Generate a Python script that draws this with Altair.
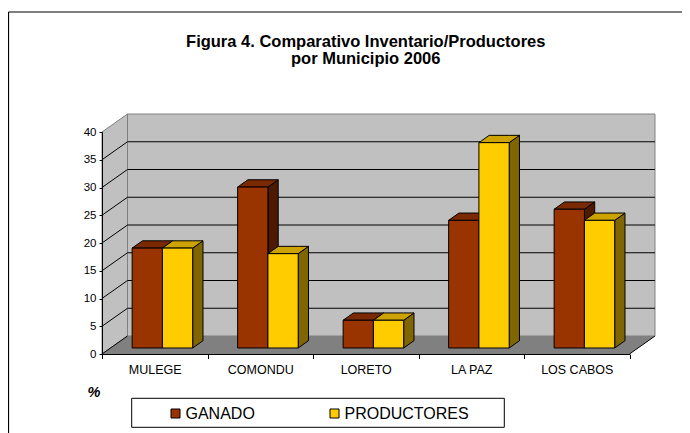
import json
import altair as alt
import pandas as pd

# ---------------- data ----------------
municipios = ["MULEGE", "COMONDU", "LORETO", "LA PAZ", "LOS CABOS"]
ganado = [18, 29, 5, 23, 25]
productores = [18, 17, 5, 37, 23]
series = ["GANADO", "PRODUCTORES"]
y_ticks = [0, 5, 10, 15, 20, 25, 30, 35, 40]
title_lines = ["Figura 4. Comparativo Inventario/Productores", "por Municipio 2006"]
y_title = "%"

# ---------------- styles ----------------
FRONT = {"GANADO": "#993300", "PRODUCTORES": "#FFCC00"}
TOP = {"GANADO": "#7A2900", "PRODUCTORES": "#CCA300"}
SIDE = {"GANADO": "#4D1A00", "PRODUCTORES": "#806600"}
WALL = "#C0C0C0"
FLOOR = "#808080"
EDGE = "#808080"
FONT = "Liberation Sans"

# ---------------- geometry (category units on x, value units on y) ----------------
N = len(municipios)
YMAX = y_ticks[-1]
BAR_START, BAR_W = 0.205, 0.287
WALL_DX, WALL_DY = 0.2417, 3.243
FRONT_DX, FRONT_DY = 0.0806, 1.081
DEPTH_DX, DEPTH_DY = 0.0976, 1.315
W, H = 527.5, 222
PAD = {"left": 94, "top": 124, "right": 52.5, "bottom": 79}

values = {"GANADO": ganado, "PRODUCTORES": productores}

fronts, tops, sides = [], [], []
for i, m in enumerate(municipios):
    for j, s in enumerate(series):
        v = values[s][i]
        x0 = i + BAR_START + j * BAR_W + FRONT_DX
        x1 = x0 + BAR_W
        yb = FRONT_DY
        yt = v + FRONT_DY
        pid = f"{m}-{s}"
        fronts.append(dict(municipio=m, serie=s, valor=v, x=x0, x2=x1, y=yb, y2=yt))
        tops += [
            dict(pid=pid, serie=s, fill=TOP[s], x=x0, y=yt, y2=yt),
            dict(pid=pid, serie=s, fill=TOP[s], x=x0 + DEPTH_DX, y=yt + DEPTH_DY, y2=yt),
            dict(pid=pid, serie=s, fill=TOP[s], x=x1, y=yt + DEPTH_DY, y2=yt),
            dict(pid=pid, serie=s, fill=TOP[s], x=x1 + DEPTH_DX, y=yt + DEPTH_DY, y2=yt + DEPTH_DY),
        ]
        sides += [
            dict(pid=pid, serie=s, fill=SIDE[s], x=x1, y=yt, y2=yb),
            dict(pid=pid, serie=s, fill=SIDE[s], x=x1 + DEPTH_DX, y=yt + DEPTH_DY, y2=yb + DEPTH_DY),
        ]

fronts = pd.DataFrame(fronts)
tops_g = pd.DataFrame([t for t in tops if t["serie"] == "GANADO"])
tops_p = pd.DataFrame([t for t in tops if t["serie"] == "PRODUCTORES"])
sides = pd.DataFrame(sides)

back_wall = pd.DataFrame([dict(x=WALL_DX, x2=N + WALL_DX, y=WALL_DY, y2=YMAX + WALL_DY)])
left_wall = pd.DataFrame([dict(x=0, y=0, y2=YMAX), dict(x=WALL_DX, y=WALL_DY, y2=YMAX + WALL_DY)])
floor = pd.DataFrame([
    dict(x=0, y=0, y2=0), dict(x=WALL_DX, y=WALL_DY, y2=0),
    dict(x=N, y=WALL_DY, y2=0), dict(x=N + WALL_DX, y=WALL_DY, y2=WALL_DY),
])
back_grid = pd.DataFrame([dict(x=WALL_DX, x2=N + WALL_DX, y=v + WALL_DY) for v in y_ticks[1:-1]])
left_diag = pd.DataFrame([dict(x=0, x2=WALL_DX, y=v, y2=v + WALL_DY) for v in y_ticks[:-1]])
right_edge = pd.DataFrame([dict(x=N, x2=N + WALL_DX, y=0, y2=WALL_DY)])
one = pd.DataFrame({"d": [0]})

XS = alt.Scale(domain=[0, N], nice=False, zero=False)
YS = alt.Scale(domain=[0, YMAX], nice=False, zero=False)

names_js = json.dumps(municipios)
AX_X = alt.Axis(
    values=[k / 2 for k in range(2 * N + 1)],
    labelExpr=f"datum.value % 1 != 0 ? {names_js}[floor(datum.value)] : ''",
    tickOpacity={"condition": {"test": "datum.value % 1 != 0", "value": 0}, "value": 1},
    grid=False, title=None, domainColor="black", tickColor="black", tickSize=4.5,
    labelFont=FONT, labelFontSize=12.5, labelColor="black", labelPadding=5,
    labelOverlap=False, labelFlush=False, zindex=1,
)
AX_Y = alt.Axis(
    values=y_ticks, grid=False, domainColor="black", tickColor="black", tickSize=3,
    labelFont=FONT, labelFontSize=11.5, labelColor="black", labelPadding=3,
    title=y_title, titleAngle=0, titleX=-8.5, titleY=264.7, titleAlign="center",
    titleBaseline="alphabetic", titleFont=FONT, titleFontSize=14.5, titleFontWeight="bold",
    titleFontStyle="italic", titleColor="black", zindex=1,
)


def X(f="x"):
    return alt.X(f"{f}:Q", scale=XS, axis=AX_X)


def Y(f="y"):
    return alt.Y(f"{f}:Q", scale=YS, axis=AX_Y, stack=None)


# frame & legend box (decoration)
frame_top = alt.Chart(one).mark_rule(color="black", strokeWidth=1.2).encode(
    x=alt.value(-93.5), x2=alt.value(W + PAD["right"]), y=alt.value(-120))
frame_left = alt.Chart(one).mark_rule(color="black", strokeWidth=1.2).encode(
    x=alt.value(-93.5), y=alt.value(-120), y2=alt.value(H + PAD["bottom"]))
legend_box = alt.Chart(one).mark_rect(fill="white", stroke="black", strokeWidth=1).encode(
    x=alt.value(29.7), x2=alt.value(402.3), y=alt.value(266.3), y2=alt.value(295.3))

wall_l = alt.Chart(back_wall).mark_rect(fill=WALL, stroke=EDGE, strokeWidth=1, opacity=1).encode(
    x=X(), x2="x2", y=Y(), y2="y2")
lwall_l = alt.Chart(left_wall).mark_area(fill=WALL, stroke=EDGE, strokeWidth=1, opacity=1).encode(
    x=X(), y=Y(), y2="y2")
floor_l = alt.Chart(floor).mark_area(fill=FLOOR, opacity=1).encode(x=X(), y=Y(), y2="y2")
grid_l = alt.Chart(back_grid).mark_rule(color="black", strokeWidth=1).encode(x=X(), x2="x2", y=Y())
diag_l = alt.Chart(left_diag).mark_rule(color="black", strokeWidth=1).encode(
    x=X(), x2="x2", y=Y(), y2="y2")
redge_l = alt.Chart(right_edge).mark_rule(color="black", strokeWidth=1).encode(
    x=X(), x2="x2", y=Y(), y2="y2")

sides_l = alt.Chart(sides).mark_area(stroke="black", strokeWidth=1, opacity=1, strokeJoin="miter").encode(
    x=X(), y=Y(), y2="y2", fill=alt.Fill("fill:N", scale=None), detail="pid:N")
tops_g_l = alt.Chart(tops_g).mark_area(stroke="black", strokeWidth=1, opacity=1, strokeJoin="miter").encode(
    x=X(), y=Y(), y2="y2", fill=alt.Fill("fill:N", scale=None), detail="pid:N")
tops_p_l = alt.Chart(tops_p).mark_area(stroke="black", strokeWidth=1, opacity=1, strokeJoin="miter").encode(
    x=X(), y=Y(), y2="y2", fill=alt.Fill("fill:N", scale=None), detail="pid:N")

fronts_l = alt.Chart(fronts).mark_rect(stroke="black", strokeWidth=1, opacity=1).encode(
    x=X(),
    x2="x2",
    y=Y(),
    y2="y2",
    color=alt.Color(
        "serie:N",
        scale=alt.Scale(domain=series, range=[FRONT[s] for s in series]),
        legend=alt.Legend(
            orient="none", legendX=65.5, legendY=273.5, direction="horizontal", title=None,
            symbolType="square", symbolSize=81, symbolStrokeColor="black", symbolStrokeWidth=1,
            symbolOpacity=1, labelFont=FONT, labelFontSize=16, labelColor="black",
            columnPadding=71, labelOffset=2, padding=0,
        ),
    ),
    tooltip=["municipio:N", "serie:N", "valor:Q"],
)

chart = alt.layer(
    frame_top, frame_left, legend_box,
    wall_l, lwall_l, floor_l, grid_l, diag_l, redge_l,
    sides_l, tops_g_l, tops_p_l, fronts_l,
).properties(
    width=W, height=H,
    autosize=alt.AutoSizeParams(type="none"),
    padding=PAD,
    title=alt.TitleParams(
        text=title_lines, font=FONT, fontSize=16.5, fontWeight="bold", color="black",
        anchor="middle", frame="group", lineHeight=17, baseline="alphabetic", offset=-69.3,
    ),
).configure_view(stroke=None).configure(background="white")

chart.save("out.html", embed_options={"renderer": "svg", "actions": False})
